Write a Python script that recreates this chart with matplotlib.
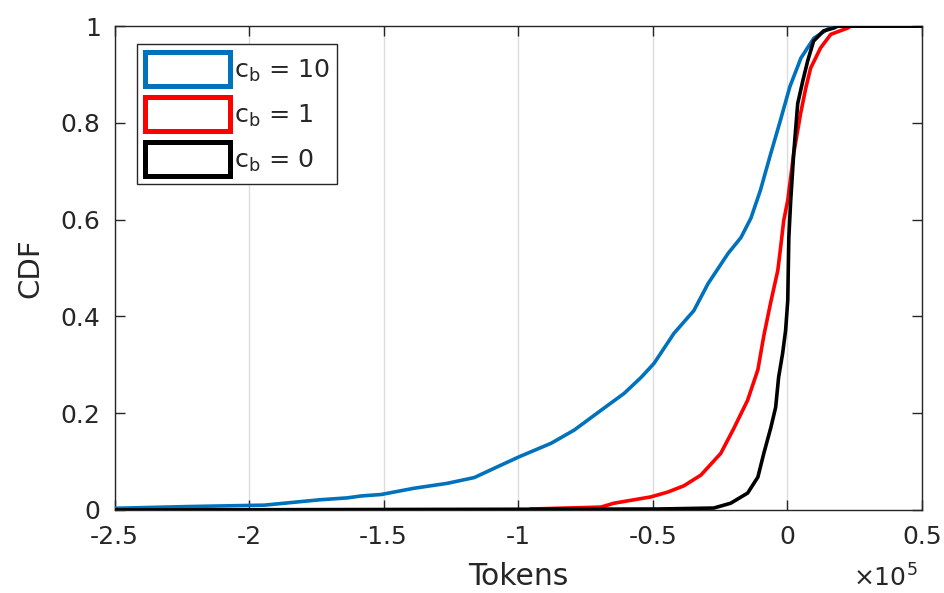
import matplotlib
matplotlib.use("Agg")
import matplotlib.pyplot as plt
from matplotlib.patches import Rectangle

# Empirical CDF knots: token values (x1e5) and cumulative fraction
cb10_tokens = [-2.5, -2.233, -1.943, -1.832, -1.739, -1.635, -1.583, -1.509,
               -1.386, -1.264, -1.163, -1.078, -0.996, -0.877, -0.792, -0.692,
               -0.606, -0.543, -0.495, -0.421, -0.347, -0.294, -0.220, -0.172,
               -0.135, -0.100, -0.062, -0.028, 0.010, 0.051, 0.099, 0.151, 0.181, 0.5]
cb10_cdf = [0.0035, 0.007, 0.01, 0.016, 0.021, 0.025, 0.029, 0.032,
            0.045, 0.055, 0.067, 0.089, 0.11, 0.138, 0.165, 0.206,
            0.241, 0.274, 0.303, 0.365, 0.412, 0.468, 0.53, 0.563,
            0.603, 0.66, 0.735, 0.80, 0.875, 0.934, 0.975, 0.994, 1.0, 1.0]

cb1_tokens = [-0.952, -0.692, -0.644, -0.507, -0.444, -0.384, -0.321, -0.247,
              -0.199, -0.147, -0.109, -0.087, -0.061, -0.035, -0.024, -0.013,
              0.002, 0.024, 0.050, 0.069, 0.087, 0.124, 0.162, 0.225, 0.236, 0.5]
cb1_cdf = [0.002, 0.006, 0.014, 0.027, 0.037, 0.05, 0.072, 0.117,
           0.168, 0.227, 0.29, 0.36, 0.43, 0.495, 0.545, 0.598,
           0.64, 0.736, 0.82, 0.872, 0.913, 0.955, 0.983, 0.996, 1.0, 1.0]

cb0_tokens = [-2.5, -0.481, -0.273, -0.210, -0.147, -0.109, -0.087, -0.061, -0.043,
              -0.032, -0.017, -0.006, 0.002, 0.006, 0.013, 0.024, 0.039, 0.058,
              0.076, 0.098, 0.135, 0.173, 0.188, 0.5]
cb0_cdf = [0.0, 0.002, 0.004, 0.014, 0.035, 0.068, 0.117, 0.17, 0.212,
           0.274, 0.324, 0.371, 0.433, 0.563, 0.64, 0.736, 0.84, 0.887,
           0.928, 0.969, 0.99, 0.996, 1.0, 1.0]

series_labels = [r"c$_\mathregular{b}$ = 10", r"c$_\mathregular{b}$ = 1", r"c$_\mathregular{b}$ = 0"]
series_colors = ["#0072BD", "#FF0000", "#000000"]

xticks = [-2.5, -2, -1.5, -1, -0.5, 0, 0.5]
xtick_labels = ["-2.5", "-2", "-1.5", "-1", "-0.5", "0", "0.5"]
yticks = [0, 0.2, 0.4, 0.6, 0.8, 1]
ytick_labels = ["0", "0.2", "0.4", "0.6", "0.8", "1"]

plt.rcParams["font.family"] = ["DejaVu Sans"]
plt.rcParams["mathtext.fontset"] = "dejavusans"
fig = plt.figure(figsize=(9.45, 5.93), dpi=100)
ax = fig.add_axes([0.1212, 0.140, 0.8542, 0.816])

edge = "#262626"
lw = 2.6
ax.plot(cb10_tokens, cb10_cdf, color=series_colors[0], lw=lw, zorder=3)
ax.plot(cb1_tokens, cb1_cdf, color=series_colors[1], lw=lw, zorder=4)
ax.plot(cb0_tokens, cb0_cdf, color=series_colors[2], lw=lw, zorder=5)

ax.set_xlim(-2.5, 0.5)
ax.set_ylim(0, 1)
ax.set_xticks(xticks)
ax.set_xticklabels(xtick_labels)
ax.set_yticks(yticks)
ax.set_yticklabels(ytick_labels)
ax.grid(axis="x", color="#dcdcdc", lw=1.0, zorder=0)
ax.set_axisbelow(True)
ax.tick_params(direction="in", length=7, width=1, colors=edge, labelsize=18,
               top=True, right=True, labelcolor="#262626")
ax.tick_params(axis="x", pad=11)
ax.tick_params(axis="y", pad=10)
for s in ax.spines.values():
    s.set_color(edge)
    s.set_linewidth(1.0)

ax.set_xlabel("Tokens", fontsize=21.5, color="#262626", labelpad=9)
ax.set_ylabel("CDF", fontsize=21, color="#262626", labelpad=12)
fig.text(0.971, 0.002, r"$\times$10$^{5}$", fontsize=18, color="#262626",
         ha="right", va="bottom")

handles = [Rectangle((0, 0), 1, 1, facecolor="white", edgecolor=c, linewidth=3.6)
           for c in series_colors]
leg = ax.legend(handles, series_labels, loc="upper left",
                bbox_to_anchor=(0.0279, 0.962), borderaxespad=0,
                fontsize=18.3, handlelength=3.35, handleheight=1.7,
                handletextpad=0.15, labelspacing=0.42, borderpad=0.3,
                fancybox=False, framealpha=1, edgecolor=edge)
leg.get_frame().set_linewidth(1.0)
for t in leg.get_texts():
    t.set_color("#262626")

fig.savefig("out.png", dpi=100)
